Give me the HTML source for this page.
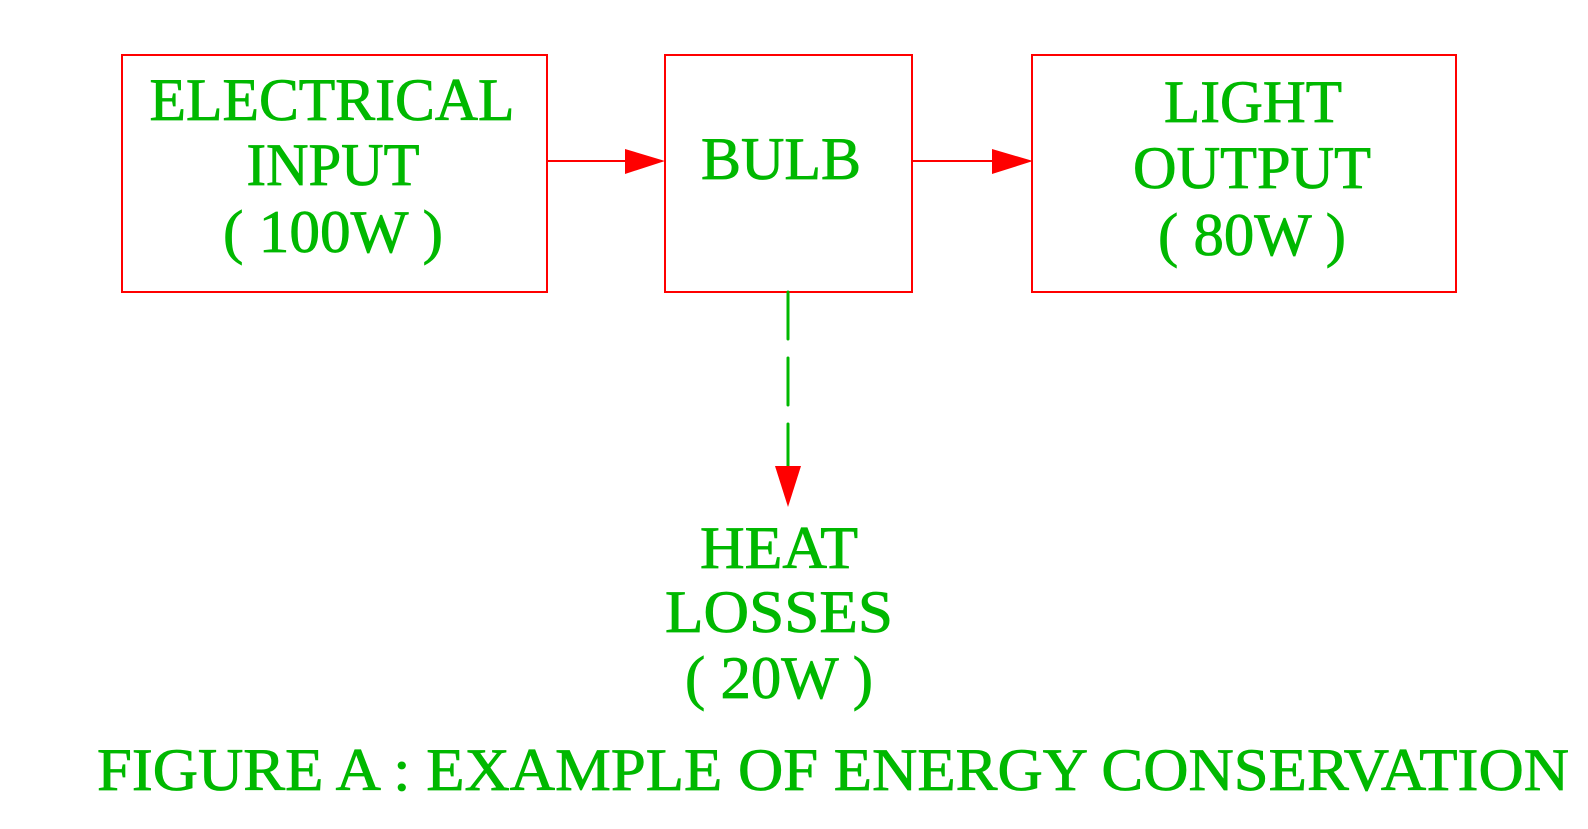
<!DOCTYPE html>
<html><head><meta charset="utf-8"><style>html,body{margin:0;padding:0;background:#fff}svg{display:block}</style></head>
<body>
<svg width="1588" height="829" viewBox="0 0 1588 829" xmlns="http://www.w3.org/2000/svg">
<g fill="none" stroke="#ff0000" stroke-width="2">
<rect x="122" y="55" width="425" height="237"/>
<rect x="665" y="55" width="247" height="237"/>
<rect x="1032" y="55" width="424" height="237"/>
<line x1="547" y1="161" x2="626" y2="161"/>
<line x1="912" y1="161" x2="993" y2="161"/>
</g>
<polygon points="625,149 665,161 625,174" fill="#ff0000"/>
<polygon points="992,149 1033,161 992,174" fill="#ff0000"/>
<line x1="788" y1="292" x2="788" y2="467" stroke="#00b800" stroke-width="3" stroke-dasharray="47,19" stroke-linecap="round"/>
<polygon points="775,466 801,466 788,507" fill="#ff0000"/>
<g fill="#00b800" stroke="#00b800" stroke-width="0.8" font-family="'Liberation Serif', serif" font-size="60" text-anchor="middle">
<text x="332" y="120" textLength="365" lengthAdjust="spacingAndGlyphs">ELECTRICAL</text>
<text x="333" y="185" textLength="173" lengthAdjust="spacingAndGlyphs">INPUT</text>
<text x="333" y="252" textLength="220" lengthAdjust="spacingAndGlyphs">( 100W )</text>
<text x="781" y="179" textLength="160" lengthAdjust="spacingAndGlyphs">BULB</text>
<text x="1253" y="122" textLength="178" lengthAdjust="spacingAndGlyphs">LIGHT</text>
<text x="1252" y="188" textLength="238" lengthAdjust="spacingAndGlyphs">OUTPUT</text>
<text x="1252" y="255" textLength="188" lengthAdjust="spacingAndGlyphs">( 80W )</text>
<text x="779" y="568" textLength="158" lengthAdjust="spacingAndGlyphs">HEAT</text>
<text x="779" y="632" textLength="228" lengthAdjust="spacingAndGlyphs">LOSSES</text>
<text x="779" y="698" textLength="188" lengthAdjust="spacingAndGlyphs">( 20W )</text>
<text x="833" y="790" textLength="1472" lengthAdjust="spacingAndGlyphs">FIGURE A : EXAMPLE OF ENERGY CONSERVATION</text>
</g>
</svg>
</body></html>
